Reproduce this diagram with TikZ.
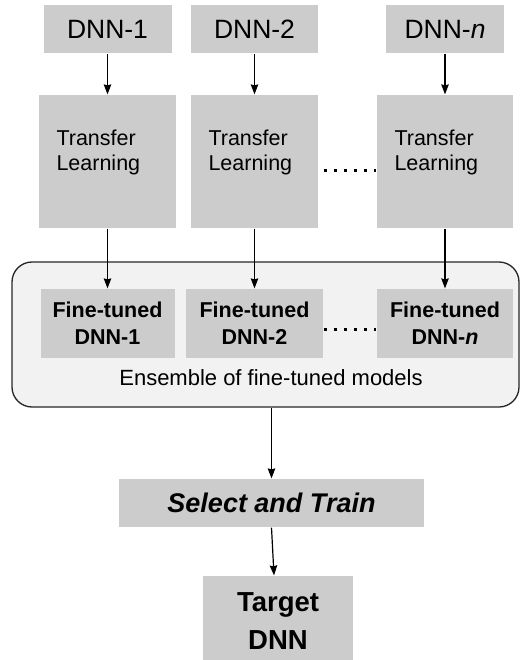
\documentclass[tikz,border=0pt]{standalone}
\usepackage{fontspec}
\setmainfont{Liberation Sans}
\usetikzlibrary{arrows.meta}
\tikzset{
  graybox/.style={fill=black!20, inner sep=0pt, align=center},
  dnnbox/.style={graybox, minimum height=48pt, font=\fontsize{26.5}{30}\selectfont},
  tlbox/.style={graybox, minimum height=133pt},
  tltext/.style={anchor=west, align=left, inner sep=0pt, font=\fontsize{21.5}{25}\selectfont},
  ftbox/.style={graybox, minimum height=69pt, font=\fontsize{21.5}{27}\selectfont\bfseries},
  ensbox/.style={draw=black!85, line width=1.3pt, fill=black!5, rounded corners=20pt, minimum width=507pt, minimum height=145pt},
  gap/.style={line width=3pt, dash pattern=on 3pt off 7.1pt},
}
\begin{document}
\begin{tikzpicture}[x=1pt,y=-1pt,line width=1.2pt,>={Stealth[length=10pt,width=7.5pt,inset=1pt]}]
	\useasboundingbox (0,0) rectangle (521,660);
	\node[ensbox] (ens) at (265.5,334.5) {};
	\node[anchor=base, inner sep=0pt, font=\fontsize{22}{26}\selectfont] (enslbl) at (271,385) {Ensemble of fine-tuned models};
	\foreach \i/\c/\lab/\wa/\wb/\wc in {1/107.5/1/128/137/134, 2/254.5/2/127/127/137, n/445/{\textit{n}}/118/136/136}{
		\node[dnnbox, minimum width=\wa pt] (dnn\i) at (\c,29) {DNN-\lab};
		\node[tlbox, minimum width=\wb pt] (tl\i) at (\c,161.5) {};
		\node[tltext] (tltxt\i) at ([xshift=17.5pt,yshift=9.5pt]tl\i.west) {Transfer\\Learning};
		\node[ftbox, minimum width=\wc pt] (ft\i) at (\c,323.5) {Fine-tuned\\DNN-\lab};
		\draw[->] (dnn\i.south) -- (dnn\i.south |- tl\i.north);
		\draw[->] (tl\i.south) -- (tl\i.south |- ft\i.north);
	}
	\draw[gap] ([xshift=5pt,yshift=-9.5pt]tl2.east) -- ([xshift=-0.5pt,yshift=-9.5pt]tln.west);
	\draw[gap] ([xshift=0pt,yshift=-5.5pt]ft2.east) -- ([xshift=-0.5pt,yshift=-5.5pt]ftn.west);
	\node[graybox, minimum width=305pt, minimum height=48pt, font=\fontsize{27}{30}\selectfont\bfseries\itshape] (sel) at (271.5,503) {Select and Train};
	\node[graybox, minimum width=150pt, minimum height=90pt, font=\fontsize{27.5}{38}\selectfont\bfseries] (tgt) at (278,621) {Target\\DNN};
	\draw[->] (sel.north |- ens.south) -- (sel.north);
	\draw[->] (sel.south) -- ([xshift=-4pt]tgt.north);
\end{tikzpicture}
\end{document}
